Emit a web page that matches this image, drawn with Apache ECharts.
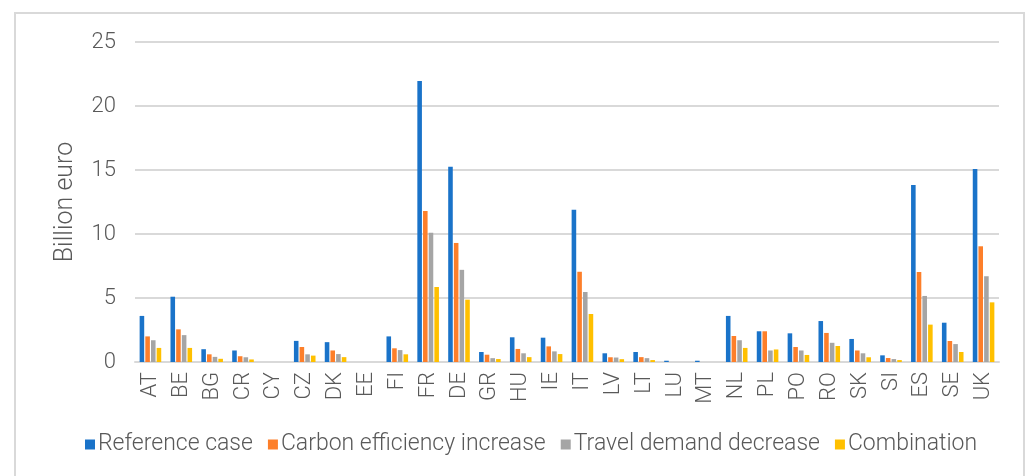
<!DOCTYPE html>
<html>
<head>
<meta charset="utf-8">
<script src="https://cdn.jsdelivr.net/npm/echarts@6/dist/echarts.min.js"></script>
<style>
  html, body { margin: 0; padding: 0; background: #fff; overflow: hidden; }
  #frame { position: absolute; left: 14px; top: 12px; width: 1011px; height: 520px; border: 2px solid #d9d9d9; box-sizing: border-box; }
  #chart { position: absolute; left: 0; top: 0; width: 1030px; height: 476px; }
</style>
</head>
<body>
<div id="frame"></div>
<div id="chart"></div>
<script>
var countries = ['AT','BE','BG','CR','CY','CZ','DK','EE','FI','FR','DE','GR','HU','IE','IT','LV','LT','LU','MT','NL','PL','PO','RO','SK','SI','ES','SE','UK'];
var referenceCase = [3.6, 5.1, 1.0, 0.9, 0, 1.65, 1.55, 0, 2.0, 21.95, 15.26, 0.78, 1.93, 1.9, 11.9, 0.68, 0.78, 0.1, 0.1, 3.6, 2.4, 2.24, 3.2, 1.8, 0.52, 13.83, 3.07, 15.08];
var carbonEfficiency = [2.0, 2.55, 0.6, 0.45, 0, 1.17, 0.9, 0, 1.07, 11.8, 9.3, 0.57, 1.02, 1.22, 7.05, 0.37, 0.38, 0, 0, 2.03, 2.4, 1.17, 2.27, 0.9, 0.31, 7.03, 1.64, 9.04];
var travelDemand = [1.7, 2.1, 0.4, 0.37, 0, 0.6, 0.62, 0, 0.93, 10.1, 7.2, 0.3, 0.68, 0.83, 5.47, 0.35, 0.3, 0, 0, 1.7, 0.9, 0.9, 1.5, 0.68, 0.23, 5.16, 1.4, 6.7];
var combination = [1.1, 1.1, 0.25, 0.2, 0, 0.5, 0.38, 0, 0.6, 5.86, 4.87, 0.23, 0.38, 0.62, 3.75, 0.22, 0.15, 0, 0, 1.1, 0.98, 0.55, 1.25, 0.37, 0.15, 2.92, 0.78, 4.66];
var seriesNames = ['Reference case', 'Carbon efficiency increase', 'Travel demand decrease', 'Combination'];
var colors = ['#1a73c9', '#fd7f2a', '#a5a5a5', '#ffc000'];

var font = 'Roboto, "Liberation Sans", sans-serif';
var chart = echarts.init(document.getElementById('chart'));
var data = [referenceCase, carbonEfficiency, travelDemand, combination];

var option = {
  animation: false,
  color: colors,
  textStyle: { fontFamily: font },
  grid: { left: 135, right: 31, top: 42, bottom: 114 },
  legend: {
    bottom: 15,
    left: 80,
    itemWidth: 10,
    itemHeight: 10,
    itemGap: 15,
    icon: 'rect',
    textStyle: { fontSize: 23, color: '#595959', fontFamily: font, fontWeight: 300, padding: [0, 0, 0, -2] },
    data: seriesNames
  },
  xAxis: {
    type: 'category',
    data: countries,
    axisLine: { lineStyle: { color: '#d9d9d9', width: 2 } },
    axisTick: { show: false },
    axisLabel: { rotate: 90, fontSize: 22, color: '#595959', fontWeight: 300, margin: 10, interval: 0 }
  },
  yAxis: {
    type: 'value',
    min: 0,
    max: 25,
    interval: 5,
    name: 'Billion euro',
    nameLocation: 'middle',
    nameGap: 57,
    nameTextStyle: { fontSize: 25, color: '#595959', fontWeight: 300 },
    axisLine: { show: false },
    axisTick: { show: false },
    splitLine: { lineStyle: { color: '#d9d9d9', width: 2 } },
    axisLabel: { fontSize: 22, color: '#595959', fontWeight: 300, margin: 19 }
  },
  series: seriesNames.map(function (n, i) {
    return {
      name: n,
      type: 'bar',
      data: data[i],
      barGap: '24%',
      barCategoryGap: '30%'
    };
  })
};
chart.setOption(option);
</script>
</body>
</html>
